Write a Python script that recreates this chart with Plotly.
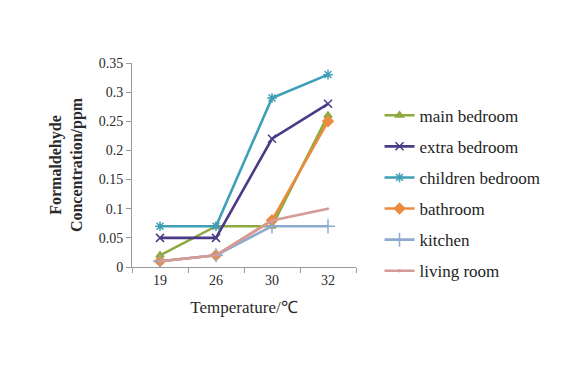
import plotly.graph_objects as go

categories = ["19", "26", "30", "32"]
main_bedroom = [0.02, 0.07, 0.07, 0.26]
extra_bedroom = [0.05, 0.05, 0.22, 0.28]
children_bedroom = [0.07, 0.07, 0.29, 0.33]
bathroom = [0.01, 0.02, 0.08, 0.25]
kitchen = [0.01, 0.02, 0.07, 0.07]
living_room = [0.01, 0.02, 0.08, 0.10]
y_ticks = [0, 0.05, 0.1, 0.15, 0.2, 0.25, 0.3, 0.35]
y_tick_text = ["0", "0.05", "0.1", "0.15", "0.2", "0.25", "0.3", "0.35"]

series = [
    ("main bedroom", main_bedroom, "#8DAA3F", "triangle-up", 7),
    ("extra bedroom", extra_bedroom, "#4B3A86", "x-thin-open", 8),
    ("children bedroom", children_bedroom, "#3E9FB6", "asterisk-open", 8),
    ("bathroom", bathroom, "#EB8B3E", "diamond", 8),
    ("kitchen", kitchen, "#8DAAD0", "cross-thin-open", 10),
    ("living room", living_room, "#D69A98", "circle", 1),
]

fig = go.Figure()
for i, (name, vals, color, sym, size) in enumerate(series):
    fig.add_trace(go.Scatter(
        x=categories, y=vals, name=name, mode="lines+markers",
        line=dict(color=color, width=2.6),
        marker=dict(symbol=sym, size=size, color=color,
                    line=dict(color=color, width=1.5)),
        legendgroup=f"g{i}",
    ))

serif = "Liberation Serif, Times New Roman, serif"
fig.update_layout(
    width=575, height=357,
    margin=dict(l=124, r=227, t=55, b=98, autoexpand=False),
    paper_bgcolor="white", plot_bgcolor="white",
    font=dict(family=serif, size=14, color="#333333"),
    showlegend=True,
    legend=dict(x=1.105, y=0.83, xanchor="left", yanchor="top",
                font=dict(family=serif, size=17, color="#1e1e1e"),
                tracegroupgap=6, itemwidth=30, maxheight=1.0,
                bgcolor="rgba(0,0,0,0)"),
    xaxis=dict(
        type="category", range=[-0.5, 3.5], automargin=False,
        showline=True, linecolor="#9a9a9a", linewidth=1,
        ticks="outside", ticklen=5, tickcolor="#9a9a9a",
        tickson="boundaries", showgrid=False, zeroline=False,
        tickfont=dict(family=serif, size=14, color="#2a2a2a"),
        title=dict(text="Temperature/℃", font=dict(family=serif, size=17, color="#2a2a2a"),
                   standoff=14),
    ),
    yaxis=dict(
        range=[0, 0.35], tickvals=y_ticks, ticktext=y_tick_text, automargin=False,
        showline=True, linecolor="#9a9a9a", linewidth=1,
        ticks="outside", ticklen=5, tickcolor="#9a9a9a",
        showgrid=False, zeroline=False,
        tickfont=dict(family=serif, size=14, color="#2a2a2a"),
        title=dict(text="<b>Formaldehyde</b><br><b>Concentration/ppm</b>",
                   font=dict(family=serif, size=16, color="#2a2a2a"), standoff=12),
    ),
)

fig.write_html("out.html")
